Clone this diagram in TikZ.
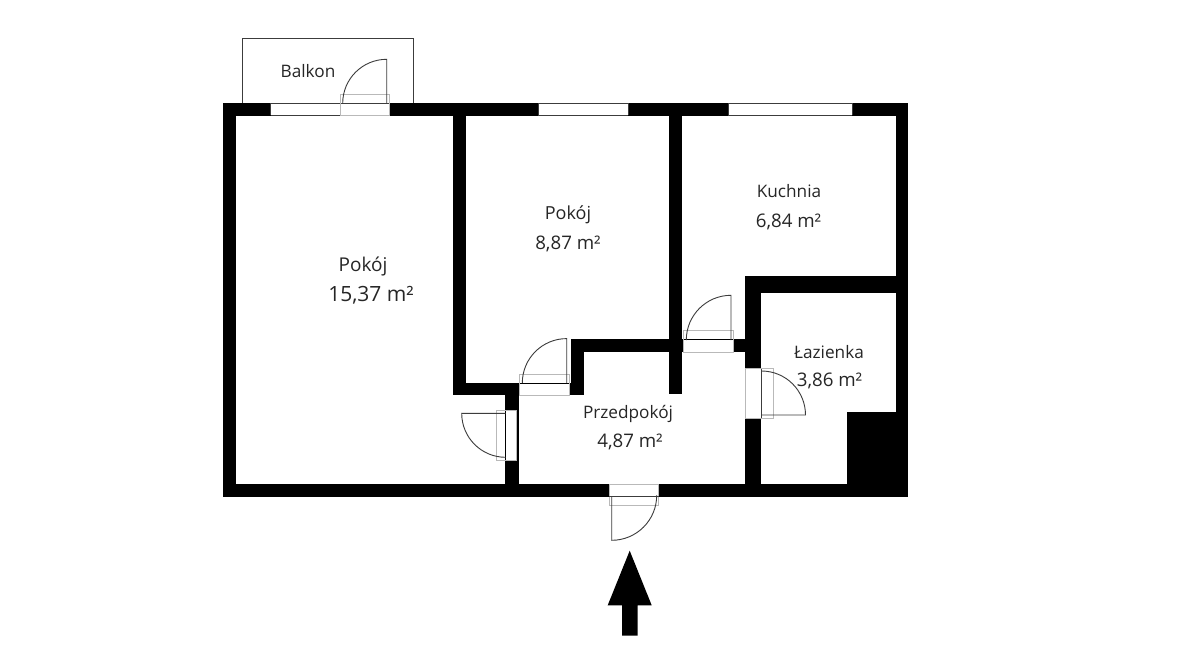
\documentclass[tikz,border=0pt]{standalone}
\usepackage{fontspec}
\setmainfont{Open Sans}
\definecolor{inkline}{RGB}{60,60,60}
\definecolor{frameline}{RGB}{185,185,185}
\tikzset{
  wallpart/.style={fill=black,draw=none},
  opening/.style={fill=white,draw=none},
  sill/.style={draw=inkline,line width=0.7pt},
  doorframe/.style={draw=frameline,line width=0.9pt},
  leaf/.style={draw=inkline,line width=0.9pt},
  roomlabel/.style={font=\fontsize{17.2}{20}\selectfont,text=black!85,inner sep=0pt,anchor=center},
  arealabel/.style={font=\fontsize{18.7}{22}\selectfont,text=black!85,inner sep=0pt,anchor=center},
  biglabel/.style={font=\fontsize{19}{22}\selectfont,text=black!85,inner sep=0pt,anchor=center},
  bigarea/.style={font=\fontsize{21}{25}\selectfont,text=black!85,inner sep=0pt,anchor=center},
}
\newcommand{\wallrect}[4]{\fill[wallpart] (#1,#2) rectangle (#3,#4);}
\begin{document}
\begin{tikzpicture}[x=1pt,y=-1pt]
\useasboundingbox (0,0) rectangle (1200,648);
\fill[white] (0,0) rectangle (1200,648);
% balcony
\draw[leaf,line width=1pt] (242.7,103) -- (242.7,38.7) -- (413.3,38.7) -- (413.3,103);
% outer walls
\wallrect{222.5}{103}{908.3}{115.5}
\wallrect{222.5}{103}{235.7}{496.8}
\wallrect{222.5}{484.2}{908.3}{496.8}
\wallrect{895.7}{103}{908.3}{496.8}
% inner walls
\wallrect{453.3}{115}{466}{395}
\wallrect{453.3}{382.8}{584}{395.2}
\wallrect{570.7}{339.4}{584}{395.2}
\wallrect{570.7}{339.4}{761.3}{352.2}
\wallrect{669.4}{115}{682}{394}
\wallrect{745}{276}{761.3}{496.8}
\wallrect{745}{276.2}{908}{292.7}
\wallrect{505.3}{395}{518.7}{496.8}
\wallrect{847}{412.3}{908}{496.8}
% windows
\foreach \xa/\xb in {270.7/340.3,538/628,728/852}{
  \fill[opening] (\xa,103.4) rectangle (\xb,115.2);
  \draw[sill] (\xa,103.4) -- (\xb,103.4) (\xa,115.2) -- (\xb,115.2) (\xa,103.4) -- (\xa,115.2) (\xb,103.4) -- (\xb,115.2);
}
% balcony door
\fill[opening] (340.3,103.4) rectangle (389.3,115.4);
\draw[sill] (340.3,103.4) rectangle (389.3,115.6);
\draw[doorframe] (340.3,94.3) rectangle (389.3,115.6);
\draw[leaf] (386.7,103) -- (386.7,59.3) arc[start angle=90,end angle=180,radius=44pt];
% door large room to hall
\fill[opening] (506.2,410) rectangle (516.8,460);
\draw[doorframe] (496.3,410) rectangle (516.8,460.3);
\draw[leaf] (505.7,413.3) -- (461.7,413.3) arc[start angle=180,end angle=270,radius=44pt];
% door small room to hall
\fill[opening] (520,384) rectangle (569,395);
\draw[doorframe] (519.3,374) rectangle (569.3,395.3);
\draw[leaf] (522.3,383) arc[start angle=180,end angle=90,radius=44.4pt] -- (566.7,383);
% door kitchen to hall
\fill[opening] (684,340) rectangle (733,351.7);
\draw[doorframe] (683,330.3) rectangle (733.7,352);
\draw[leaf] (686.3,340) arc[start angle=180,end angle=90,radius=44.7pt] -- (731,340);
% bathroom door
\fill[opening] (746,369) rectangle (761,417.7);
\draw[doorframe] (745.5,368.5) rectangle (773.3,418);
\draw[leaf] (761.5,415) -- (805.5,415) arc[start angle=0,end angle=90,radius=44pt] -- (761.5,371);
\draw[sill] (761.3,369) -- (761.3,417.7);
% entrance door
\fill[opening] (609.4,484.4) rectangle (658.7,496);
\draw[doorframe] (609.4,484.4) rectangle (658.7,505.3);
\draw[sill] (609.4,496.3) -- (658.7,496.3);
\draw[leaf] (611.7,496.3) -- (611.7,540.3) arc[start angle=270,end angle=360,radius=45pt];
% arrow
\fill[black] (629.7,550.7) -- (651.7,605.3) -- (637.7,605.3) -- (637.7,635.7) -- (622,635.7) -- (622,605.3) -- (607.7,605.3) -- cycle;
% labels
\node[roomlabel] (balkon) at (308,71) {Balkon};
\node[biglabel] (pokoja) at (363,267) {Pokój};
\node[bigarea] (areaa) at (371,295) {15,37 m²};
\node[roomlabel,font=\fontsize{18}{21}\selectfont] (pokojb) at (568,215) {Pokój};
\node[arealabel] (areab) at (568,244) {8,87 m²};
\node[roomlabel] (kuchnia) at (789,191) {Kuchnia};
\node[arealabel] (areac) at (788.5,222) {6,84 m²};
\node[roomlabel] (lazienka) at (829,352) {Łazienka};
\node[arealabel] (aread) at (829.5,381) {3,86 m²};
\node[roomlabel] (przedpokoj) at (628,414) {Przedpokój};
\node[arealabel] (areae) at (630,442) {4,87 m²};
\end{tikzpicture}
\end{document}
